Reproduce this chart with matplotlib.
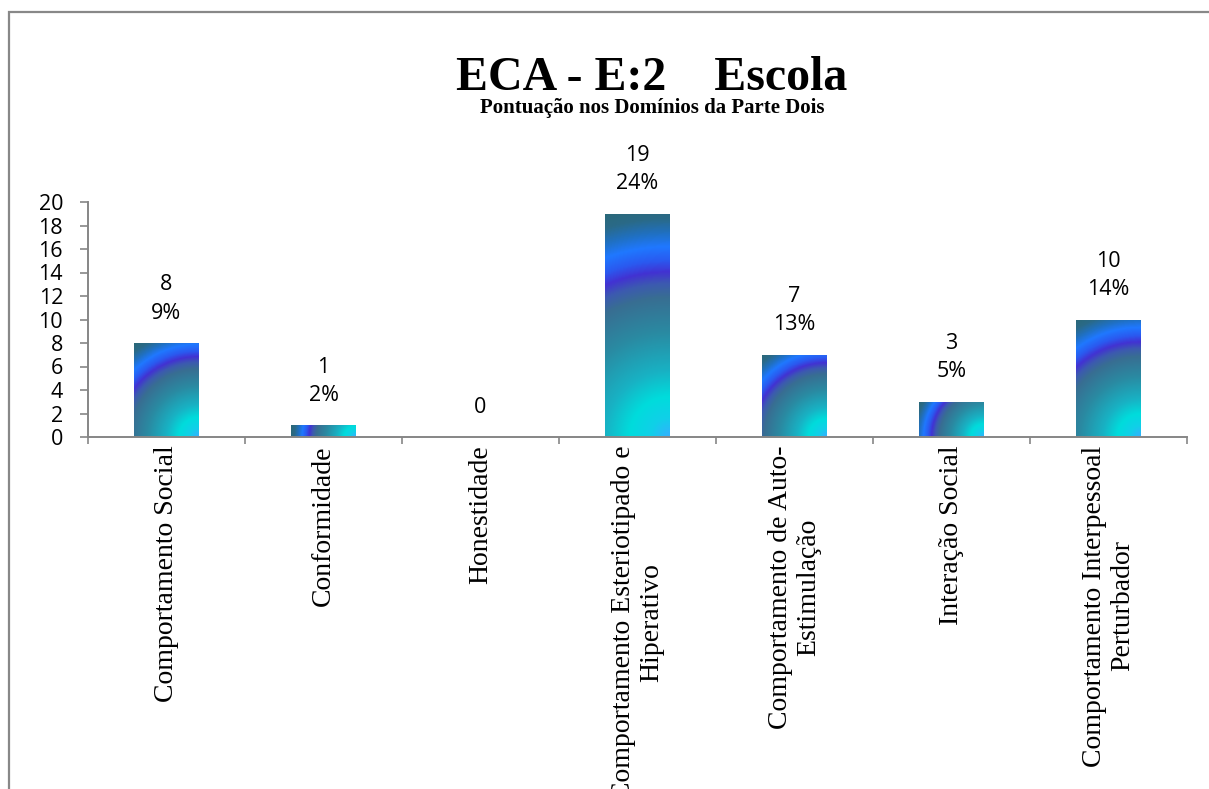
import numpy as np
import matplotlib
matplotlib.use("Agg")
import matplotlib.pyplot as plt
from matplotlib.colors import LinearSegmentedColormap
from matplotlib.patches import Rectangle

# Data
categories = [
    "Comportamento Social",
    "Conformidade",
    "Honestidade",
    "Comportamento Esteriotipado e\nHiperativo",
    "Comportamento de Auto-\nEstimulação",
    "Interação Social",
    "Comportamento Interpessoal\nPerturbador",
]
scores = [8, 1, 0, 19, 7, 3, 10]
percents = [9, 2, 0, 24, 13, 5, 14]
yticks = list(range(0, 21, 2))

SERIF = "Liberation Serif"
SANS = "Open Sans"

# radial "from corner" gradient like the Excel preset fill
grad = LinearSegmentedColormap.from_list("bars", [
    (0.00, "#34b0ff"),
    (0.08, "#10d0e8"),
    (0.17, "#00dcdc"),
    (0.28, "#18b2c4"),
    (0.45, "#2a8aa2"),
    (0.60, "#386e92"),
    (0.66, "#3c5ab0"),
    (0.71, "#4232d2"),
    (0.76, "#2a5af0"),
    (0.82, "#1f78ff"),
    (0.88, "#2070c0"),
    (0.94, "#2a6a88"),
    (1.00, "#2a6878"),
])


def corner_gradient(w_px, h_px):
    # distance from the bottom-right corner, scaled by the bar diagonal
    nx = max(int(w_px), 2)
    ny = max(int(h_px), 2)
    X, Y = np.meshgrid(np.linspace(0, w_px, nx), np.linspace(0, h_px, ny))
    r = np.sqrt((w_px - X) ** 2 + Y ** 2) / np.hypot(w_px, h_px)
    return np.clip(r, 0, 1)


fig = plt.figure(figsize=(12.09, 7.89), dpi=100)
ax = fig.add_axes([88 / 1209, (789 - 437) / 789, (1187 - 88) / 1209, 235 / 789])

x = np.arange(len(categories))
bars = ax.bar(x, scores, width=0.41, facecolor="none", edgecolor="none", zorder=2)

ax.set_xlim(-0.5, len(categories) - 0.5)
ax.set_ylim(0, 20)

for b in bars:
    h = b.get_height()
    if h <= 0:
        continue
    x0 = b.get_x()
    w = b.get_width()
    p0 = ax.transData.transform((x0, 0))
    p1 = ax.transData.transform((x0 + w, h))
    img = corner_gradient(p1[0] - p0[0], p1[1] - p0[1])
    im = ax.imshow(img, cmap=grad, vmin=0, vmax=1, origin="lower",
                   extent=(x0, x0 + w, 0, h), aspect="auto",
                   interpolation="bilinear", zorder=2)
    im.set_clip_path(b)

# value + percent labels
for xi, s, p in zip(x, scores, percents):
    txt = str(s) if s == 0 else f"{s}\n{p}%"
    ax.annotate(txt, (xi, s), xytext=(0, 14), textcoords="offset points",
                ha="center", va="bottom", fontsize=15.5, family=SANS,
                linespacing=1.45, color="black")

ax.set_xlim(-0.5, len(categories) - 0.5)
ax.set_ylim(0, 20)
ax.set_yticks(yticks)
ax.set_yticklabels([str(t) for t in yticks], family=SANS, fontsize=15.5)

ax.set_xticks(x)
ax.set_xticklabels(categories, rotation=90, ha="center", va="top",
                   multialignment="center", family=SERIF, fontsize=20,
                   linespacing=1.18)
ax.set_xticks(np.arange(-0.5, len(categories)), minor=True)
ax.tick_params(axis="x", which="major", length=0, pad=6)
ax.tick_params(axis="x", which="minor", length=5, width=1.2, color="#868686", direction="out")
ax.tick_params(axis="y", length=6, width=1.2, color="#868686", pad=12)

for side in ["top", "right"]:
    ax.spines[side].set_visible(False)
for side in ["left", "bottom"]:
    ax.spines[side].set_color("#868686")
    ax.spines[side].set_linewidth(1.4)

# titles
fig.text(652 / 1209, (789 - 90) / 789, "ECA - E:2    Escola", ha="center",
         va="baseline", family=SERIF, fontsize=34.5, fontweight="bold")
fig.text(652 / 1209, (789 - 113) / 789, "Pontuação nos Domínios da Parte Dois",
         ha="center", va="baseline", family=SERIF, fontsize=15, fontweight="bold")

# chart area border (cut off at right and bottom)
fig.add_artist(Rectangle((8.5 / 1209, -0.1), 1.2, 1.1 - 12.5 / 789,
                         transform=fig.transFigure, fill=False,
                         edgecolor="#888888", linewidth=1.6))

fig.savefig("out.png", dpi=100)
